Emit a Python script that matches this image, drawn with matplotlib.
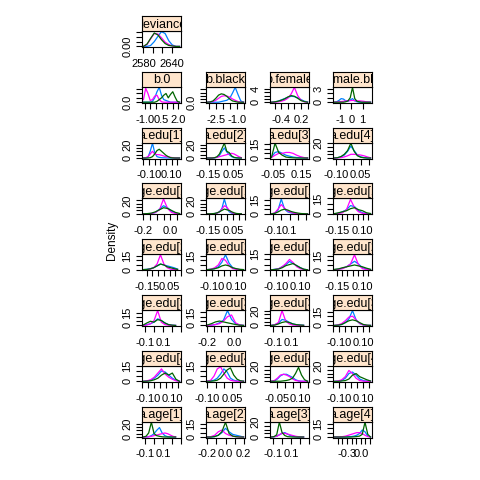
import matplotlib
matplotlib.use("Agg")
import matplotlib.pyplot as plt
import numpy as np

plt.rcParams['font.family'] = ['Liberation Sans', 'DejaVu Sans']

# parameter names (strip text)
names = ["deviance",
         "b.0", "b.black", "b.female", "b.female.black",
         "a.edu[1]", "a.edu[2]", "a.edu[3]", "a.edu[4]"]
names += ["a.age.edu[%d,%d]" % (i, j) for i in range(1, 5) for j in range(1, 5)]
names += ["a.age[1]", "a.age[2]", "a.age[3]", "a.age[4]"]

# range of the sampled values (density curves span this)
x_lo = [2580, -1.1, -3.1, -0.7, -1.5, -0.15, -0.16, -0.06, -0.11,
        -0.2, -0.16, -0.12, -0.18,
        -0.18, -0.14, -0.14, -0.18,
        -0.12, -0.2, -0.12, -0.14,
        -0.14, -0.10, -0.09, -0.14,
        -0.12, -0.2, -0.12, -0.57]
x_hi = [2656, 2.1, -0.5, 0.4, 1.7, 0.17, 0.12, 0.19, 0.11,
        0.07, 0.12, 0.32, 0.18,
        0.12, 0.16, 0.16, 0.18,
        0.24, 0.07, 0.24, 0.16,
        0.16, 0.12, 0.15, 0.16,
        0.24, 0.2, 0.24, 0.21]

# chain 1 (blue)
dens_blue = [
    [0, 0, 0.002, 0.010, 0.021, 0.031, 0.027, 0.012, 0.003, 0, 0],
    [0, 0, 0, 0, 0.1, 0.5, 1.2, 1.7, 0.8, 0.3, 0.2, 0.1, 0, 0, 0, 0, 0],
    [0, 0, 0, 0, 0, 0.1, 0.2, 0.3, 0.6, 1.4, 2.3, 1.2, 0.2, 0],
    [0, 0.1, 0.3, 0.7, 1.1, 1.5, 1.8, 1.7, 1.3, 0.8, 0.3, 0.1],
    [0, 0.1, 0.4, 0.8, 0.7, 0.3, 0.2, 0.5, 0.8, 0.3, 0.1, 0, 0, 0, 0, 0, 0],
    [0, 0, 1, 10, 22, 8, 2, 1, 0.5, 0.3, 0.2, 0, 0, 0, 0, 0, 0],
    [0, 0, 0, 0.2, 1, 4, 10, 15, 9, 5, 2, 0.5, 0.2, 0, 0],
    [1, 6, 7, 5, 3, 2, 1, 0.5, 0.2, 0, 0],
    [0, 0.5, 1.5, 4, 9, 16, 10, 4, 1.5, 0.5, 0, 0],
    [0, 0, 0.5, 2, 7, 12, 9, 4, 1, 0],
    [0, 0, 0, 0.5, 1, 3, 8, 22, 9, 3, 1, 0.3, 0, 0, 0],
    [0, 0.5, 4, 16, 5, 2, 1, 0.5, 0.2, 0, 0, 0],
    [0, 0.5, 2, 4, 8, 7, 3, 1, 0.3, 0],
    [0, 0.3, 1, 2, 4, 6, 5, 4, 3, 2, 0.5],
    [0, 0.3, 1, 3, 8, 16, 7, 2, 0.5, 0, 0],
    [0, 0.5, 1, 3, 5, 8, 6, 4, 2, 0.5, 0],
    [0, 0.5, 1.5, 3, 6, 9, 6, 2, 0.5, 0],
    [0, 1, 2, 4, 8, 6, 3, 1, 0.3, 0],
    [0, 0.3, 1, 3, 6, 17, 7, 2, 0.5, 0],
    [0, 1, 3, 8, 7, 4, 2, 1, 0.5, 0.2],
    [0, 0.3, 1, 3, 7, 16, 6, 2, 0.5, 0, 0],
    [0, 0.3, 1, 3, 6, 10, 9, 6, 3, 1, 0],
    [0, 0.3, 1, 3, 7, 12, 9, 3, 1, 0.3, 0, 0],
    [0, 0.5, 3, 7, 9, 9, 7, 5, 2, 0.5, 0, 0, 0],
    [0, 0.3, 1, 4, 10, 12, 8, 3, 1, 0.3, 0],
    [0, 0, 0.5, 2, 5, 10, 14, 6, 2, 0.5, 0, 0, 0],
    [0, 0, 0.5, 2, 5, 10, 6, 3, 2, 1, 0],
    [0, 0.3, 1, 3, 5, 6, 4, 2, 1, 0.3, 0, 0, 0],
    [0, 0, 0, 0, 0, 0.3, 0.5, 1, 2, 4, 8, 6, 1, 0],
]

# chain 2 (magenta)
dens_pink = [
    [0, 0.004, 0.016, 0.027, 0.026, 0.018, 0.009, 0.004, 0.001, 0, 0],
    [0.3, 1.6, 1.0, 0.2, 0.3, 0.7, 0.8, 0.3, 0.05, 0, 0, 0, 0, 0, 0, 0, 0],
    [0, 0.05, 0.1, 0.3, 0.6, 0.9, 1.0, 0.95, 0.8, 0.5, 0.3, 0.1, 0, 0],
    [0, 0, 0.1, 0.3, 0.6, 1.2, 2.5, 4.5, 2.0, 0.6, 0.1, 0],
    [0, 0.05, 0.1, 0.15, 0.2, 0.3, 0.3, 0.35, 0.4, 0.35, 0.3, 0.3, 0.25, 0.2, 0.1, 0.05, 0],
    [0, 0.5, 2, 6, 10, 6, 5, 5, 4, 3, 2, 1.5, 1, 0.5, 0.2, 0, 0],
    [0, 0, 0.2, 0.5, 1, 2, 3, 4, 5, 6, 7, 6, 4, 2, 0.5],
    [0.5, 3, 5, 5, 6, 6, 5, 3, 1.5, 0.5, 0],
    [0, 0.2, 0.5, 1.5, 3, 5, 5, 4.5, 4, 3, 1.5, 0.3],
    [0, 0, 0.5, 2, 6, 22, 8, 2, 0.5, 0],
    [0, 0, 0, 0.3, 1, 3, 7, 12, 10, 5, 2, 0.5, 0, 0, 0],
    [0, 1, 5, 10, 6, 3, 1.5, 0.5, 0.2, 0, 0, 0],
    [0, 0.3, 1, 4, 14, 6, 2, 0.5, 0, 0],
    [0, 0, 0.5, 2, 6, 16, 6, 2, 0.5, 0, 0],
    [0, 0.5, 2, 5, 12, 10, 4, 1, 0.3, 0, 0],
    [0, 0.3, 1, 3, 6, 10, 7, 3, 1, 0.3, 0],
    [0, 0.3, 1, 3, 6, 16, 5, 1, 0.2, 0],
    [0, 0.5, 2, 6, 18, 4, 1, 0.3, 0, 0],
    [0, 0.3, 1, 2, 5, 10, 12, 3, 0.5, 0],
    [0, 1, 4, 20, 6, 2, 0.5, 0.2, 0, 0],
    [0, 0.5, 2, 5, 9, 10, 6, 2, 0.5, 0, 0],
    [0, 0.5, 1.5, 4, 8, 12, 7, 4, 2, 0.5, 0],
    [0, 1, 5, 12, 14, 8, 3, 1, 0.3, 0, 0, 0],
    [0, 1, 4, 8, 9, 8, 6, 3, 1, 0.3, 0, 0, 0],
    [0, 0.5, 2, 6, 14, 10, 4, 1, 0.3, 0, 0],
    [0, 0, 0.3, 1, 2, 3, 4, 5, 6, 5, 3, 1, 0.2],
    [0, 0.5, 2, 6, 8, 4, 2, 1, 0.3, 0, 0],
    [0, 0.5, 1, 3, 5, 5, 4, 3, 2, 1, 0.5, 0, 0],
    [0, 0, 0.2, 0.5, 1, 2, 3, 4, 5, 5, 4, 2, 0.5, 0],
]

# chain 3 (dark green)
dens_green = [
    [0, 0.005, 0.017, 0.028, 0.024, 0.014, 0.006, 0.002, 0.001, 0, 0],
    [0, 0, 0, 0, 0, 0, 0.1, 0.3, 0.5, 0.8, 1.0, 0.5, 0.9, 1.2, 0.6, 0.1, 0],
    [0, 0.05, 0.2, 0.6, 1.1, 1.3, 1.2, 0.9, 0.5, 0.2, 0.1, 0, 0, 0],
    [0, 0.1, 0.3, 0.6, 1.0, 1.6, 2.0, 1.8, 1.2, 0.5, 0.2, 0],
    [0, 0, 0, 0, 0, 0.1, 0.3, 1.0, 3.3, 0.8, 0.2, 0.1, 0, 0, 0, 0, 0],
    [0, 0, 0, 0.5, 2, 6, 11, 13, 10, 7, 4, 2, 0.5, 0.2, 0, 0, 0],
    [0, 0, 0, 0.5, 2, 6, 14, 22, 10, 8, 3, 1, 0.3, 0, 0],
    [0.5, 16, 6, 3, 1, 0.5, 0.2, 0, 0, 0, 0],
    [0, 0.5, 2, 5, 10, 20, 9, 3, 1, 0.3, 0, 0],
    [0, 0.3, 1, 3, 6, 9, 8, 5, 2, 0.5],
    [0, 0, 0.2, 0.5, 1.5, 3, 5, 7, 6, 5, 3, 1.5, 0.5, 0.2, 0],
    [0, 0.5, 2, 4, 5, 4, 2.5, 1.5, 0.8, 0.3, 0.1, 0],
    [0.2, 1, 2, 3, 5, 6, 4, 3, 1, 0.3],
    [0, 0.2, 0.8, 2, 4, 6, 5, 3, 2, 1, 0.3],
    [0, 0.3, 1, 2, 4, 5, 4, 2, 1, 0.3, 0],
    [0, 0.3, 0.8, 2, 4, 5, 6, 4, 2, 0.5, 0],
    [0.2, 0.8, 2, 3, 4, 5, 4, 3, 1.5, 0.3],
    [0.5, 3, 5, 4, 7, 6, 3, 1, 0.3, 0],
    [0.5, 2, 4, 5, 4, 3, 2, 1, 0.3, 0],
    [0, 0.5, 2, 4, 5, 4, 2, 1, 0.5, 0.2],
    [0, 0.3, 1, 3, 5, 6, 5, 3, 1, 0.3, 0],
    [0, 0.2, 0.5, 1.5, 3, 6, 8, 6, 8, 2, 0],
    [0, 0, 0.3, 1, 3, 7, 11, 13, 6, 2, 0.5, 0],
    [0, 0, 0, 0, 0.5, 1, 2, 4, 10, 18, 8, 2, 0],
    [0, 0, 0.5, 1, 3, 8, 10, 6, 4, 2, 0.5],
    [0, 1, 6, 22, 5, 2, 1, 0.3, 0, 0, 0, 0, 0],
    [0, 0, 0.5, 2, 6, 17, 4, 1, 0.3, 0, 0],
    [0, 0.5, 3, 20, 6, 2, 0.5, 0.2, 0, 0, 0, 0, 0],
    [0, 0, 0, 0, 0, 0, 0, 0.2, 0.5, 1, 3, 17, 3, 0],
]

# axis ticks and which of them carry a label
xt_a = [-0.15, -0.1, -0.05, 0, 0.05, 0.1, 0.15]
xt_b = [-0.2, -0.15, -0.1, -0.05, 0, 0.05]
xt_c = [-0.1, 0, 0.1, 0.2, 0.3]
x_ticks = [[2580, 2600, 2620, 2640], [-1, -0.5, 0, 0.5, 1, 1.5, 2],
           [-3, -2.5, -2, -1.5, -1, -0.5], [-0.6, -0.4, -0.2, 0, 0.2, 0.4],
           [-1, 0, 1], xt_a, xt_a, [-0.05, 0, 0.05, 0.1, 0.15],
           [-0.1, -0.05, 0, 0.05, 0.1],
           xt_b, xt_a, xt_c, xt_a,
           xt_a, xt_a, xt_a, xt_a,
           xt_c, xt_b, xt_c, xt_a,
           xt_a, [-0.1, -0.05, 0, 0.05, 0.1], [-0.05, 0, 0.05, 0.1, 0.15], xt_a,
           xt_c, [-0.2, -0.1, 0, 0.1, 0.2], xt_c,
           [-0.5, -0.4, -0.3, -0.2, -0.1, 0, 0.1, 0.2]]
x_shown = [["2580", "2640"], ["-1.0", "0.5", "2.0"], ["-2.5", "-1.0"],
           ["-0.4", "0.2"], ["-1", "0", "1"],
           ["-0.10", "0.10"], ["-0.15", "0.05"], ["-0.05", "0.15"], ["-0.10", "0.05"],
           ["-0.2", "0.0"], ["-0.15", "0.05"], ["-0.1", "0.1"], ["-0.15", "0.10"],
           ["-0.15", "0.05"], ["-0.10", "0.10"], ["-0.10", "0.10"], ["-0.15", "0.10"],
           ["-0.1", "0.1"], ["-0.2", "0.0"], ["-0.1", "0.1"], ["-0.10", "0.10"],
           ["-0.10", "0.10"], ["-0.10", "0.05"], ["-0.05", "0.10"], ["-0.10", "0.10"],
           ["-0.1", "0.1"], ["-0.2", "0.0", "0.2"], ["-0.1", "0.1"], ["-0.3", "0.0"]]

y15 = [0, 5, 10, 15]
y20 = [0, 5, 10, 15, 20]
y_ticks = [[0, 0.01, 0.02, 0.03], [0, 0.5, 1, 1.5], [0, 0.5, 1, 1.5, 2],
           [0, 1, 2, 3, 4], [0, 1, 2, 3],
           y20, y20, y15, y20,
           y20, y20, y15, y15,
           y15, y15, y15, y15,
           y15, y15, y20, y15,
           y15, y15, y20, y20,
           y20, y15, y20, y15]
y_shown = [["0.00"], ["0.0"], ["0.0"], ["0", "4"], ["0", "3"]] + \
          [["0", str(t[-1])] for t in y_ticks[5:]]

colors = ["#0080ff", "#ff00ff", "darkgreen"]

W = H = 480
fig = plt.figure(figsize=(4.8, 4.8), dpi=100)

col_left = [142, 206, 270, 333]
pw, ph, sh = 39, 16, 15


def box(left, top, w, h):
    return [left / W, 1 - (top + h) / H, w / W, h / H]


def tick_text(ticks, shown):
    out = []
    for t in ticks:
        lab = ""
        for s in shown:
            if abs(float(s) - t) < 1e-9:
                lab = s
        out.append(lab)
    return out


for k, name in enumerate(names):
    if k == 0:
        r, c = 0, 0
    else:
        r, c = 1 + (k - 1) // 4, (k - 1) % 4
    top = 16 + 55.8 * r
    left = col_left[c]

    ax = fig.add_axes(box(left, top + sh, pw, ph))
    ymax = 0
    for dens, col in zip([dens_blue[k], dens_pink[k], dens_green[k]], colors):
        y = np.array(dens, dtype=float)
        x = np.linspace(x_lo[k], x_hi[k], len(y))
        ax.plot(x, y, color=col, lw=0.9)
        ymax = max(ymax, y.max())
    pad = 0.04 * (x_hi[k] - x_lo[k])
    ax.set_xlim(x_lo[k] - pad, x_hi[k] + pad)
    ax.set_ylim(-0.04 * ymax, ymax * 1.04)

    ax.set_xticks(x_ticks[k])
    ax.set_xticklabels(tick_text(x_ticks[k], x_shown[k]))
    ys = y_shown[k]
    n = len(y_ticks[k])
    ax.set_yticks(y_ticks[k])
    ax.set_yticklabels([ys[0] if i == 0 else (ys[-1] if (i == n - 1 and len(ys) > 1) else "")
                        for i in range(n)], rotation=90, va="center")
    ax.tick_params(direction="out", length=4, width=0.8, labelsize=8, pad=3)
    ax.tick_params(axis="x", pad=4.5)
    for sp in ax.spines.values():
        sp.set_linewidth(0.8)

    sx = fig.add_axes(box(left, top, pw, sh))
    sx.set_facecolor("#ffe5cc")
    sx.set_xticks([])
    sx.set_yticks([])
    for sp in sx.spines.values():
        sp.set_linewidth(0.8)
    sx.text(0.5, 0.42, name, ha="center", va="center", fontsize=9,
            transform=sx.transAxes, clip_on=True)

fig.text(112 / W, 1 - 240 / H, "Density", rotation=90, ha="center", va="center",
         fontsize=8.5)

fig.savefig("out.png", dpi=100)
